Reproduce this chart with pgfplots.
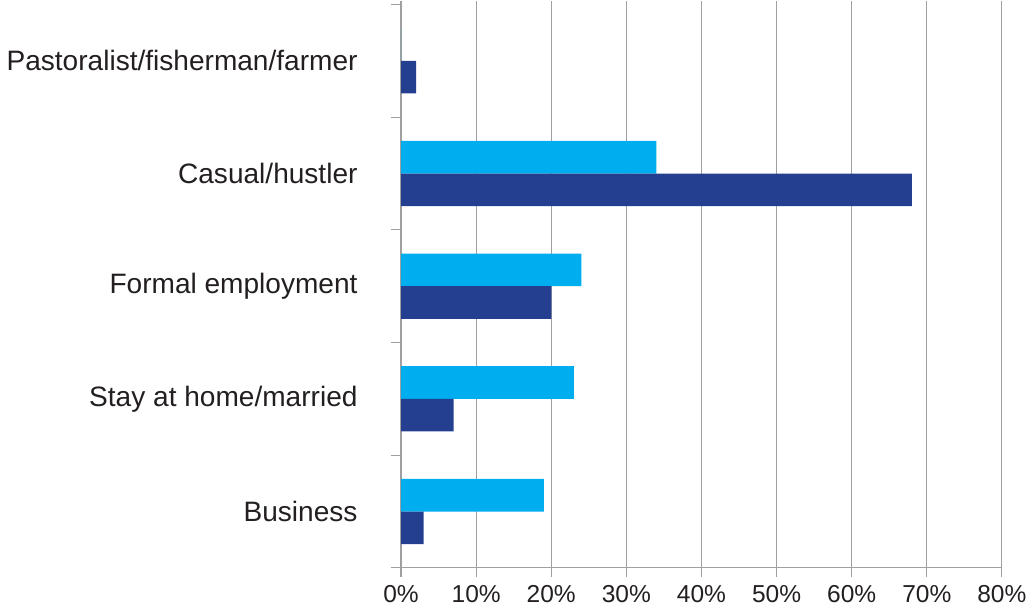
\documentclass[border=0pt]{standalone}
\usepackage{pgfplots}
\pgfplotsset{compat=1.18}
\usepackage{fontspec}
\setmainfont{Liberation Sans}
\definecolor{lightb}{HTML}{00AEEF}
\definecolor{darkb}{HTML}{243F8F}
\definecolor{axgray}{HTML}{A0A0A0}
\definecolor{txt}{HTML}{231F20}
\begin{document}
\begin{tikzpicture}
\begin{axis}[
  scale only axis, width=304pt, height=287pt,
  xmin=0, xmax=80, ymin=-0.5, ymax=4.535,
  xtick={0,10,...,80},
  xticklabel={\pgfmathprintnumber{\tick}\%},
  /pgf/number format/assume math mode=true,
  xmajorgrids, grid style={axgray, line width=0.6pt},
  axis x line=bottom, axis y line=left,
  axis line style={-, axgray, line width=0.6pt},
  ytick={0,1,2,3,4},
  yticklabels={Business, Stay at home/married, Formal employment, Casual/hustler, Pastoralist/fisherman/farmer},
  minor ytick={-0.5,0.5,...,4.5},
  major y tick style={draw=none},
  tick align=outside,
  major tick length=4.5pt, minor tick length=5pt,
  tick style={axgray, line width=0.6pt},
  yticklabel style={font=\fontsize{14.2}{16}\selectfont, xshift=-14pt, text=txt},
  xticklabel style={font=\fontsize{12.4}{14}\selectfont, yshift=-1pt, text=txt},
  xbar, bar width=16.5pt,
]
\addplot[fill=lightb, draw=none, bar shift=8.25pt] coordinates {(19,0) (23,1) (24,2) (34,3) (0,4)};
\addplot[fill=darkb, draw=none, bar shift=-8.25pt] coordinates {(3,0) (7,1) (20,2) (68,3) (2,4)};
\end{axis}
\end{tikzpicture}
\end{document}
